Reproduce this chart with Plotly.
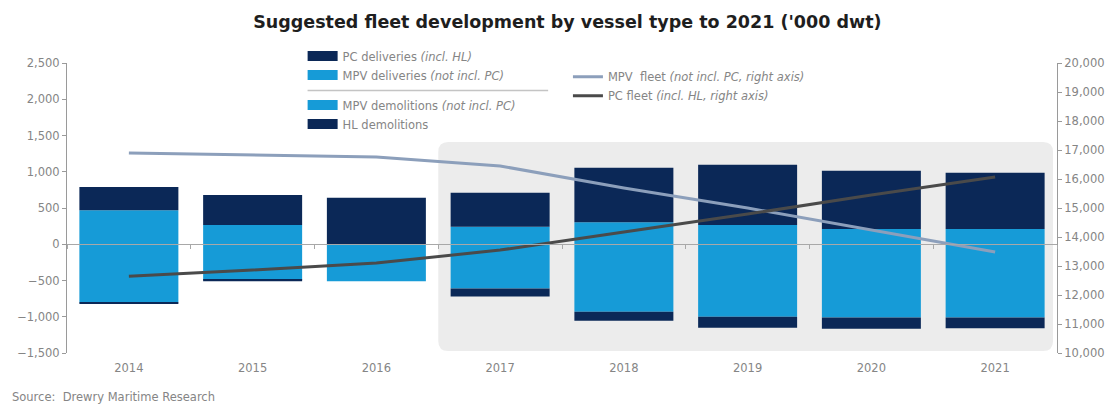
import plotly.graph_objects as go

years = ["2014", "2015", "2016", "2017", "2018", "2019", "2020", "2021"]
mpv_deliveries = [470, 265, 0, 240, 305, 265, 210, 210]
pc_deliveries = [320, 415, 640, 470, 750, 830, 805, 775]
mpv_demolitions = [-800, -490, -510, -610, -930, -1000, -1010, -1010]
hl_demolitions = [-15, -20, 0, -110, -125, -150, -155, -150]
mpv_fleet = [16900, 16830, 16760, 16450, 15690, 15000, 14240, 13480]
pc_fleet = [12650, 12860, 13100, 13550, 14170, 14790, 15450, 16070]

left_ticks = [-1500, -1000, -500, 0, 500, 1000, 1500, 2000, 2500]
right_ticks = list(range(10000, 20001, 1000))

DARK = "#0b2857"
LIGHT = "#169bd7"
MPV_LINE = "#8c9fbb"
PC_LINE = "#4a4a4a"
GREY_TXT = "#858585"
FONT = "DejaVu Sans, Verdana, sans-serif"

fig = go.Figure()

# stacked bars (relative stacking)
fig.add_trace(go.Bar(x=years, y=mpv_deliveries, marker_color=LIGHT, showlegend=False,
                     marker_line_width=0, name="MPV deliveries"))
fig.add_trace(go.Bar(x=years, y=pc_deliveries, marker_color=DARK, showlegend=False,
                     marker_line_width=0, name="PC deliveries"))
fig.add_trace(go.Bar(x=years, y=mpv_demolitions, marker_color=LIGHT, showlegend=False,
                     marker_line_width=0, name="MPV demolitions"))
fig.add_trace(go.Bar(x=years, y=hl_demolitions, marker_color=DARK, showlegend=False,
                     marker_line_width=0, name="HL demolitions"))

# fleet lines on right axis
fig.add_trace(go.Scatter(x=years, y=mpv_fleet, yaxis="y2", mode="lines",
                         line=dict(color=MPV_LINE, width=3),
                         name="MPV  fleet <i>(not incl. PC, right axis)</i>", legend="legend2"))
fig.add_trace(go.Scatter(x=years, y=pc_fleet, yaxis="y2", mode="lines",
                         line=dict(color=PC_LINE, width=3),
                         name="PC fleet <i>(incl. HL, right axis)</i>", legend="legend2"))

# legend swatches for bars (wide rectangles)
legend_items = [
    ("PC deliveries <i>(incl. HL)</i>", DARK, "del", 1),
    ("MPV deliveries <i>(not incl. PC)</i>", LIGHT, "del", 2),
    ("MPV demolitions <i>(not incl. PC)</i>", LIGHT, "dem", 3),
    ("HL demolitions", DARK, "dem", 4),
]
for name, col, grp, rank in legend_items:
    fig.add_trace(go.Scatter(x=[None], y=[None], mode="lines", line=dict(color=col, width=10),
                             name=name, legendgroup=grp, legendrank=rank, legend="legend",
                             hoverinfo="skip"))

# helper trace for the zero-crossing category axis
fig.add_trace(go.Scatter(x=years, y=[None] * len(years), xaxis="x2", mode="markers",
                         showlegend=False, hoverinfo="skip"))

n = len(years)
x0p = (years.index("2017") - 0.5 + 0.5) / n
x1p = 0.996
y0p = 0.007
y1p = 0.728
rx = 10 / 990
ry = 10 / 290
path = (f"M {x0p+rx},{y0p} L {x1p-rx},{y0p} Q {x1p},{y0p} {x1p},{y0p+ry} "
        f"L {x1p},{y1p-ry} Q {x1p},{y1p} {x1p-rx},{y1p} L {x0p+rx},{y1p} "
        f"Q {x0p},{y1p} {x0p},{y1p-ry} L {x0p},{y0p+ry} Q {x0p},{y0p} {x0p+rx},{y0p} Z")

zero_pos = (0 - left_ticks[0]) / (left_ticks[-1] - left_ticks[0])
TS = 11.5

fig.update_layout(
    width=1119, height=405,
    margin=dict(l=67, r=62, t=63, b=52),
    paper_bgcolor="white", plot_bgcolor="white",
    barmode="relative", bargap=0.2,
    font=dict(family=FONT, size=TS, color=GREY_TXT),
    title=dict(text="<b>Suggested fleet development by vessel type to 2021 ('000 dwt)</b>",
               x=0.507, xanchor="center", y=0.945, yanchor="middle",
               font=dict(size=17.5, color="#1e1e1e", family=FONT)),
    xaxis=dict(type="category", range=[-0.5, n - 0.5], showline=False, ticks="",
               showgrid=False, zeroline=False, ticklabelstandoff=6,
               tickfont=dict(size=TS, color=GREY_TXT)),
    xaxis2=dict(type="category", range=[-0.5, n - 0.5], overlaying="x", anchor="free",
                position=zero_pos, side="bottom", showline=True, linecolor="#a8a8a8",
                linewidth=1, ticks="outside", tickson="boundaries", ticklen=4,
                tickcolor="#a8a8a8", showticklabels=False, showgrid=False, zeroline=False),
    yaxis=dict(range=[left_ticks[0], left_ticks[-1]], tickvals=left_ticks,
               tickformat=",d", showgrid=False, zeroline=False, showline=True,
               linecolor="#9a9a9a", ticks="outside", ticklen=4, tickcolor="#9a9a9a",
               tickfont=dict(size=TS, color=GREY_TXT)),
    yaxis2=dict(range=[right_ticks[0], right_ticks[-1]], tickvals=right_ticks,
                tickformat=",d", overlaying="y", side="right", showgrid=False,
                zeroline=False, showline=True, linecolor="#9a9a9a", ticks="outside",
                ticklen=4, tickcolor="#9a9a9a", tickfont=dict(size=TS, color=GREY_TXT)),
    legend=dict(x=0.238, xanchor="left", y=1.074, yanchor="top", bgcolor="rgba(255,255,255,0)",
                tracegroupgap=11, font=dict(size=TS, color=GREY_TXT), traceorder="grouped"),
    legend2=dict(x=0.506, xanchor="left", y=1.003, yanchor="top", bgcolor="rgba(255,255,255,0)",
                 font=dict(size=TS, color=GREY_TXT)),
    shapes=[
        dict(type="path", xref="paper", yref="paper", path=path, fillcolor="#ececec",
             line=dict(width=0), layer="below"),
        dict(type="line", xref="paper", yref="paper", x0=0.243, x1=0.486, y0=0.905, y1=0.905,
             line=dict(color="#c4c4c4", width=1.5)),
    ],
    annotations=[
        dict(text="Source:  Drewry Maritime Research", xref="paper", yref="paper",
             x=-57 / 990, y=-44 / 290, xanchor="left", yanchor="middle", showarrow=False,
             font=dict(size=TS, color=GREY_TXT)),
    ],
)

fig.write_html("out.html")
